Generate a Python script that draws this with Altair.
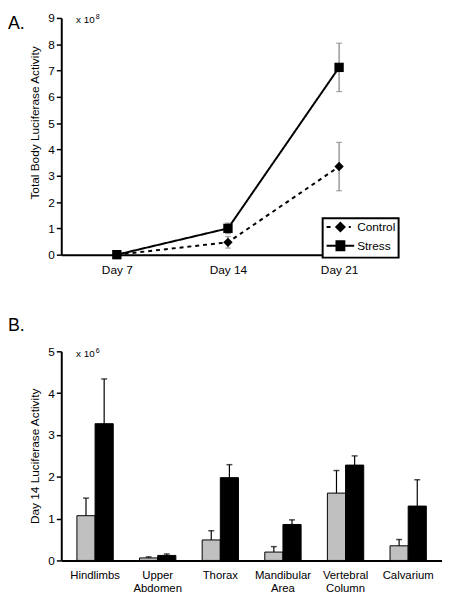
import altair as alt
import pandas as pd

FONT = "Liberation Sans"

# ---------------- Panel A data (x 10^8) ----------------
days = ["Day 7", "Day 14", "Day 21"]
series = ["Control", "Stress"]
control_mean = [0.0, 0.47, 3.35]
control_err = [0.0, 0.22, 0.92]
stress_mean = [0.0, 1.0, 7.12]
stress_err = [0.0, 0.20, 0.92]

# ---------------- Panel B data (x 10^6) ----------------
sites = ["Hindlimbs", "Upper Abdomen", "Thorax", "Mandibular Area",
         "Vertebral Column", "Calvarium"]
site_control = [1.07, 0.06, 0.49, 0.20, 1.61, 0.35]
site_control_err = [0.42, 0.025, 0.22, 0.13, 0.54, 0.15]
site_stress = [3.27, 0.12, 1.98, 0.86, 2.28, 1.30]
site_stress_err = [1.07, 0.035, 0.31, 0.11, 0.22, 0.63]

panel_labels = ["A.", "B."]
mult_text = ["x 10", "x 10"]
mult_exp = ["8", "6"]
titleA = "Total Body Luciferase Activity"
titleB = "Day 14 Luciferase Activity"

rowsA = []
for s, means, errs in (("Control", control_mean, control_err),
                       ("Stress", stress_mean, stress_err)):
    for d, m, e in zip(days, means, errs):
        rowsA.append(dict(day=d, series=s, mean=m, lo=m - e, hi=m + e, err=e))
dfA = pd.DataFrame(rowsA)

rowsB = []
for s, means, errs in (("Control", site_control, site_control_err),
                       ("Stress", site_stress, site_stress_err)):
    for st, m, e in zip(sites, means, errs):
        rowsB.append(dict(site=st, series=s, mean=m, hi=m + e))
dfB = pd.DataFrame(rowsB)

# ---------------- Panel A ----------------
xA = alt.X("day:N", sort=days, scale=alt.Scale(type="point", padding=0.5),
           axis=alt.Axis(title=None, labelAngle=0, ticks=False, labelPadding=10))
scaleA = alt.Scale(domain=[0, 9], nice=False)
axisA = alt.Axis(title=titleA, values=list(range(10)), titleY=106, labelOverlap=False)


def yA(field):
    return alt.Y(field, scale=scaleA, axis=axisA)


baseA = alt.Chart(dfA)
errA = baseA.transform_filter("datum.err > 0")

linesA = baseA.mark_line(color="black", strokeWidth=2).encode(
    x=xA, y=yA("mean:Q"),
    strokeDash=alt.StrokeDash("series:N", scale=alt.Scale(domain=series, range=[[4, 4], [1, 0]]),
                              legend=None),
)
rulesA = errA.mark_rule(color="#808080", strokeWidth=1.2).encode(
    x=xA, y=yA("lo:Q"), y2="hi:Q")
capLoA = errA.mark_tick(color="#808080", thickness=1.2, size=6, orient="horizontal").encode(
    x=xA, y=yA("lo:Q"))
capHiA = errA.mark_tick(color="#808080", thickness=1.2, size=6, orient="horizontal").encode(
    x=xA, y=yA("hi:Q"))
ptsA = baseA.mark_point(filled=True, color="black", opacity=1, size=90).encode(
    x=xA, y=yA("mean:Q"),
    shape=alt.Shape("series:N", scale=alt.Scale(domain=series, range=["diamond", "square"]),
                    legend=None),
)

# legend glyphs (line + marker), drawn with strokes only; unit = 5 px
ctrl_path = ("M-1,0H-0.2M3.5,0H3.9"
             "M1.8,-0.84L2.64,0L1.8,0.84L0.96,0Z"
             "M1.8,-0.5L2.3,0L1.8,0.5L1.3,0Z"
             "M1.8,-0.2L2,0L1.8,0.2L1.6,0Z")
stress_path = ("M-1,0H4.6"
               "M1,-0.9H2.6V0.9H1Z"
               "M1.3,-0.6H2.3V0.6H1.3Z"
               "M1.6,-0.3H2V0.3H1.6Z")
legA = baseA.mark_point(filled=False, color="black", strokeWidth=2, opacity=0).encode(
    x=xA, y=yA("mean:Q"),
    shape=alt.Shape("series:N", scale=alt.Scale(domain=series, range=[ctrl_path, stress_path]),
                    legend=alt.Legend(title=None, orient="none", legendX=265, legendY=203,
                                      symbolSize=100, symbolStrokeWidth=2,
                                      symbolStrokeColor="black", symbolOpacity=1,
                                      labelFontSize=12, padding=3, rowPadding=1,
                                      strokeColor="black", fillColor="white",
                                      labelOffset=20)),
)

lblA = alt.Chart(pd.DataFrame({"t": [panel_labels[0]]})).mark_text(
    align="left", baseline="alphabetic", fontSize=18, font=FONT).encode(
    text="t:N", x=alt.value(-54), y=alt.value(11))
multA = alt.Chart(pd.DataFrame({"t": [mult_text[0]]})).mark_text(
    align="left", baseline="alphabetic", fontSize=10, font=FONT).encode(
    text="t:N", x=alt.value(15), y=alt.value(5))
expA = alt.Chart(pd.DataFrame({"t": [mult_exp[0]]})).mark_text(
    align="left", baseline="alphabetic", fontSize=7, font=FONT).encode(
    text="t:N", x=alt.value(35), y=alt.value(1))

chartA = alt.layer(linesA, rulesA, capLoA, capHiA, ptsA, legA, lblA, multA, expA).resolve_scale(
    shape="independent").properties(width=338, height=240)

# ---------------- Panel B ----------------
xB = alt.X("site:N", sort=sites, scale=alt.Scale(paddingInner=0.42, paddingOuter=0.25),
           axis=alt.Axis(title=None, labelAngle=0, ticks=False, labelPadding=9,
                         labelFontSize=11.5,
                         labelExpr="split(datum.label, ' ')", labelLineHeight=13))
xoffB = alt.XOffset("series:N", sort=series, scale=alt.Scale(paddingInner=0, paddingOuter=0))
scaleB = alt.Scale(domain=[0, 5], nice=False)
axisB = alt.Axis(title=titleB, values=[0, 1, 2, 3, 4, 5])


def yB(field):
    return alt.Y(field, scale=scaleB, axis=axisB)


baseB = alt.Chart(dfB)
barsB = baseB.mark_bar(stroke="black", strokeWidth=1).encode(
    x=xB, xOffset=xoffB, y=yB("mean:Q"),
    fill=alt.Fill("series:N", scale=alt.Scale(domain=series, range=["#c0c0c0", "black"]),
                  legend=alt.Legend(title=None, orient="none", direction="horizontal",
                                    legendX=275, legendY=-3, symbolType="square",
                                    symbolSize=70, symbolStrokeColor="black",
                                    symbolStrokeWidth=1, labelFontSize=12, padding=3,
                                    strokeColor="#aaaaaa", fillColor="white",
                                    columnPadding=4, labelOffset=2)),
)
rulesB = baseB.mark_rule(color="black", strokeWidth=1.2).encode(
    x=xB, xOffset=xoffB, y=yB("mean:Q"), y2="hi:Q")
capsB = baseB.mark_tick(color="black", thickness=1.5, size=6, orient="horizontal").encode(
    x=xB, xOffset=xoffB, y=yB("hi:Q"))

lblB = alt.Chart(pd.DataFrame({"t": [panel_labels[1]]})).mark_text(
    align="left", baseline="alphabetic", fontSize=18, font=FONT).encode(
    text="t:N", x=alt.value(-54), y=alt.value(-21))
multB = alt.Chart(pd.DataFrame({"t": [mult_text[1]]})).mark_text(
    align="left", baseline="alphabetic", fontSize=10, font=FONT).encode(
    text="t:N", x=alt.value(15), y=alt.value(6))
expB = alt.Chart(pd.DataFrame({"t": [mult_exp[1]]})).mark_text(
    align="left", baseline="alphabetic", fontSize=7, font=FONT).encode(
    text="t:N", x=alt.value(35), y=alt.value(2))

chartB = alt.layer(barsB, rulesB, capsB, lblB, multB, expB).properties(width=386, height=212)

chart = alt.vconcat(chartA, chartB, spacing=42).properties(padding=0).configure_view(
    stroke=None
).configure_axis(
    grid=False, labelFont=FONT, titleFont=FONT, labelFontSize=12, titleFontSize=12,
    titleFontWeight="normal", labelColor="black", titleColor="black",
    domainColor="black", domainWidth=2, tickColor="black", tickWidth=1.5, tickSize=5,
    labelPadding=2, titlePadding=6
).configure_legend(
    labelFont=FONT, labelColor="black", strokeWidth=2
)

chart.save("out.html", embed_options={"renderer": "svg", "actions": False})
